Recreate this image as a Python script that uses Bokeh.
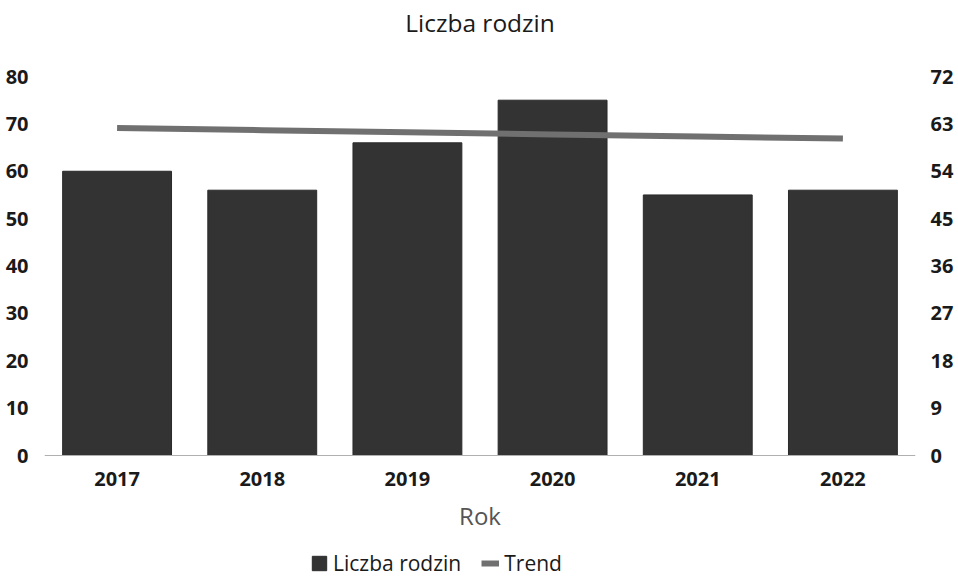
from bokeh.plotting import figure
from bokeh.models import (Range1d, LinearAxis, FixedTicker, Legend, LegendItem,
                          ColumnDataSource, FactorRange)
from bokeh.embed import file_html
from bokeh.resources import INLINE

years = ["2017", "2018", "2019", "2020", "2021", "2022"]
families = [60, 56, 66, 75, 55, 56]
trend = [62.2, 61.8, 61.4, 61.0, 60.6, 60.2]
left_ticks = [0, 10, 20, 30, 40, 50, 60, 70, 80]
right_ticks = [0, 9, 18, 27, 36, 45, 54, 63, 72]

# layout (pixels): frame top 42, top tick at 76, zero line at 455, figure bottom 578
W, H = 956, 578
FRAME_TOP, TICK_TOP, ZERO = 42, 76, 455
below = (H - ZERO) / (ZERO - TICK_TOP)       # room below zero for axis labels + legend
above = (TICK_TOP - FRAME_TOP) / (ZERO - TICK_TOP)

src = ColumnDataSource(dict(year=years, families=families, trend=trend))

p = figure(x_range=FactorRange(*years),
           y_range=Range1d(-80 * below, 80 * (1 + above)),
           width=W, height=H, output_backend="svg", toolbar_location=None,
           title="Liczba rodzin", x_axis_label="Rok")
p.extra_y_ranges = {"right": Range1d(-72 * below, 72 * (1 + above))}

p.min_border_left = 44
p.min_border_right = 34
p.min_border_top = FRAME_TOP
p.min_border_bottom = 0
p.outline_line_color = None
p.xgrid.visible = False
p.ygrid.visible = False

p.title.align = "center"
p.title.text_font = "Open Sans"
p.title.text_font_size = "24.5px"
p.title.text_font_style = "normal"
p.title.text_color = "#1a1a1a"
p.title.standoff = 7

bars = p.vbar(x="year", top="families", width=0.75, source=src,
              fill_color="#333333", line_color="#2a2a2a")
tline = p.line(x="year", y="trend", source=src, y_range_name="right",
               line_color="#707070", line_width=6)

raxis = LinearAxis(y_range_name="right", ticker=FixedTicker(ticks=right_ticks))
p.add_layout(raxis, "right")
p.yaxis[0].ticker = FixedTicker(ticks=left_ticks)

for ax in [p.xaxis[0], p.yaxis[0], raxis]:
    ax.major_tick_line_color = None
    ax.minor_tick_line_color = None
    ax.major_label_text_font = "Open Sans"
    ax.major_label_text_font_size = "20px"
    ax.major_label_text_font_style = "bold"
    ax.major_label_text_color = "#1a1a1a"
    ax.major_label_standoff = 10

p.yaxis[0].axis_line_color = None
raxis.axis_line_color = None
raxis.major_label_standoff = 9

xa = p.xaxis[0]
xa.fixed_location = 0
xa.axis_line_color = "#b0b0b0"
xa.major_label_standoff = 10
xa.axis_label_text_font = "Open Sans"
xa.axis_label_text_font_size = "24px"
xa.axis_label_text_font_style = "normal"
xa.axis_label_text_color = "#555555"
xa.axis_label_standoff = 10

legend = Legend(items=[LegendItem(label="Liczba rodzin", renderers=[bars]),
                       LegendItem(label="Trend", renderers=[tline])],
                orientation="horizontal", location=(266, 1))
legend.label_text_font = "Open Sans"
legend.label_text_font_size = "21px"
legend.label_text_color = "#1a1a1a"
legend.glyph_width = 18
legend.glyph_height = 18
legend.label_standoff = 5
legend.spacing = 20
legend.padding = 0
legend.margin = 0
legend.border_line_color = None
legend.background_fill_alpha = 0
p.add_layout(legend, "center")

open("out.html", "w").write(file_html(p, INLINE))
